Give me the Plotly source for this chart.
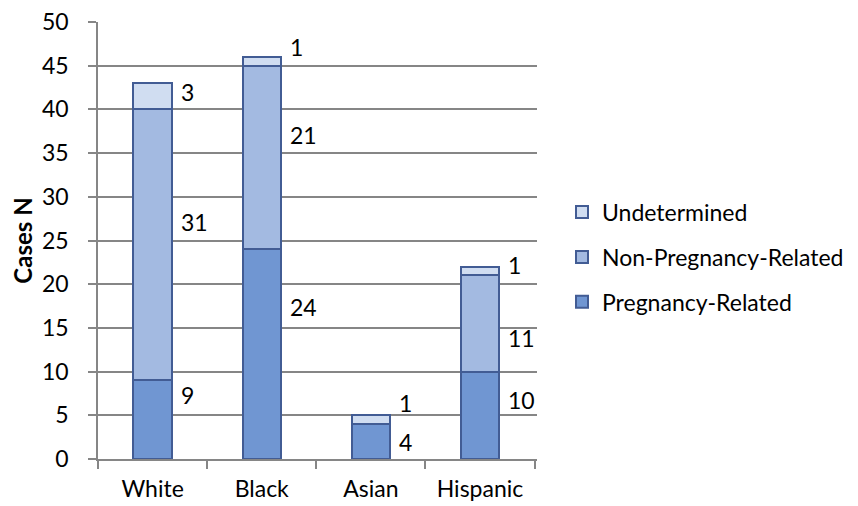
import plotly.graph_objects as go

categories = ["White", "Black", "Asian", "Hispanic"]
pregnancy_related = [9, 24, 4, 10]
non_pregnancy_related = [31, 21, 0, 11]
undetermined = [3, 1, 1, 1]
y_ticks = [0, 5, 10, 15, 20, 25, 30, 35, 40, 45, 50]

# label text per series (None = no label) and label vertical placement (value units)
label_preg = ["9", "24", "4", "10"]
label_non = ["31", "21", None, "11"]
label_und = ["3", "1", "1", "1"]
label_preg_y = [7.3, 17.4, 1.9, 6.75]
label_non_y = [27.1, 37.1, None, 13.8]
label_und_y = [42.0, 47.1, 6.4, 22.2]

FONT = "Lato"
FS = 23
edge = "rgb(66,92,148)"
c_preg = "rgb(112,150,210)"
c_non = "rgb(163,186,225)"
c_und = "rgb(208,221,241)"
grid = "rgb(134,134,134)"

fig = go.Figure()
series = [
    ("Pregnancy-Related", pregnancy_related, c_preg, 3),
    ("Non-Pregnancy-Related", non_pregnancy_related, c_non, 2),
    ("Undetermined", undetermined, c_und, 1),
]
for name, vals, col, rank in series:
    fig.add_trace(go.Bar(
        x=categories, y=vals, name=name, legendgroup=name, legendrank=rank,
        marker=dict(color=col, line=dict(color=edge, width=2)),
        hoverinfo="skip",
    ))

for texts, ys in [(label_preg, label_preg_y), (label_non, label_non_y), (label_und, label_und_y)]:
    for cat, t, yv in zip(categories, texts, ys):
        if t is None:
            continue
        fig.add_annotation(x=cat, y=yv, text=t, showarrow=False,
                           xanchor="left", yanchor="middle", xshift=26,
                           font=dict(family=FONT, size=FS, color="black"))

fig.update_layout(
    barmode="stack",
    bargap=0.65,
    width=850, height=498,
    margin=dict(l=90, r=321, t=14, b=47, autoexpand=False),
    plot_bgcolor="white", paper_bgcolor="white",
    font=dict(family=FONT, size=FS, color="black"),
    showlegend=True,
    legend=dict(
        x=1.057, xanchor="left", y=0.462, yanchor="middle",
        traceorder="grouped", tracegroupgap=12,
        font=dict(family=FONT, size=FS, color="black"),
        bgcolor="rgba(0,0,0,0)",
    ),
    xaxis=dict(
        automargin=False,
        showline=True, linecolor=grid, linewidth=1.5,
        ticks="outside", ticklen=8, tickcolor=grid, tickwidth=1.5,
        tickson="boundaries", ticklabelstandoff=9,
        tickfont=dict(family=FONT, size=FS), showgrid=False,
    ),
    yaxis=dict(
        automargin=False,
        range=[0, 50], tickmode="array", tickvals=y_ticks,
        ticklabeloverflow="allow",
        showline=True, linecolor=grid, linewidth=1.5,
        ticks="outside", ticklen=8, tickcolor=grid, tickwidth=1.5,
        ticklabelstandoff=15,
        showgrid=True, gridcolor=grid, gridwidth=1.5,
        zeroline=False,
        tickfont=dict(family=FONT, size=FS),
        title=dict(text="<b>Cases N</b>", font=dict(family=FONT, size=24), standoff=6),
    ),
)

fig.write_html("out.html")
